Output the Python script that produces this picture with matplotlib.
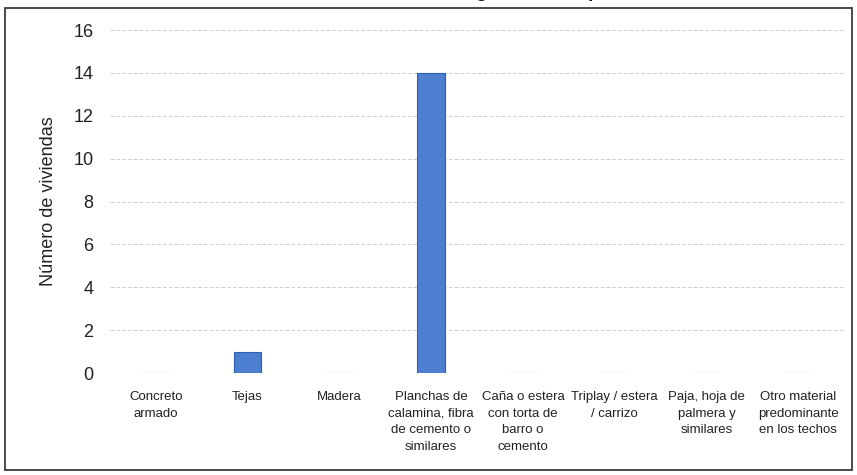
import matplotlib.pyplot as plt
from matplotlib.patches import Rectangle

categorias = [
    "Concreto\narmado",
    "Tejas",
    "Madera",
    "Planchas de\ncalamina, fibra\nde cemento o\nsimilares",
    "Caña o estera\ncon torta de\nbarro o\ncemento",
    "Triplay / estera\n/ carrizo",
    "Paja, hoja de\npalmera y\nsimilares",
    "Otro material\npredominante\nen los techos",
]
viviendas = [0, 1, 0, 14, 0, 0, 0, 0]
y_ticks = [0, 2, 4, 6, 8, 10, 12, 14, 16]

titulo = "Número de viviendas según material predominante en techos"

plt.rcParams["font.family"] = ["Liberation Sans", "DejaVu Sans"]

W, H = 857, 475
fig = plt.figure(figsize=(W / 100, H / 100), dpi=100)
ax = fig.add_axes([110 / W, 1 - 373 / H, 734 / W, (373 - 30) / H])

x = list(range(len(categorias)))
ax.bar(x, viviendas, width=0.3, color="#4c7fcf", edgecolor="#2c5fb0", linewidth=0.8, zorder=3)

ax.set_xlim(-0.5, len(categorias) - 0.5)
ax.set_ylim(0, 16)
ax.set_yticks(y_ticks)
ax.set_yticklabels([str(v) for v in y_ticks], fontsize=13, color="#222222")
ax.set_xticks(x)
ax.set_xticklabels(categorias, fontsize=9.5, color="#222222", linespacing=1.5, va="top")
ax.tick_params(axis="both", length=0)
ax.tick_params(axis="y", pad=12)
ax.tick_params(axis="x", pad=13)

ax.grid(axis="y", color="#d0d0d0", linewidth=0.7, linestyle=(0, (4, 2)), zorder=0)
for s in ax.spines.values():
    s.set_visible(False)

ax.set_ylabel("Número de viviendas", fontsize=13, color="#222222", labelpad=12)

# outer chart border
fig.patches.append(Rectangle((5 / W, 1 - 470 / H), 847 / W, 462 / H,
                             transform=fig.transFigure, fill=False,
                             edgecolor="#3a3a3a", linewidth=1.3))

# title sits just above the top edge, only the descenders reach the canvas
fig.text(796 / W, 1 + 3 / H, titulo, ha="right", va="baseline",
         fontsize=13, fontweight="bold", color="#111111")

fig.savefig("out.png", dpi=100)
